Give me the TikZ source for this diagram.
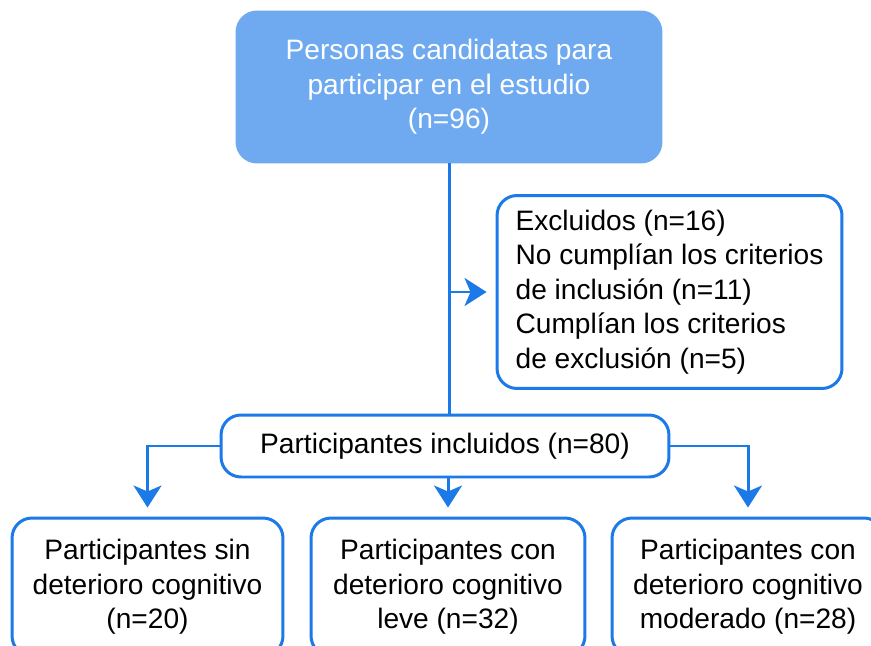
\documentclass[tikz,border=0pt]{standalone}
\usepackage{fontspec}
\setmainfont{Liberation Sans}
\usetikzlibrary{arrows.meta}

\definecolor{flowblue}{RGB}{27,121,232}
\definecolor{headfill}{RGB}{111,170,240}

\tikzset{
	boxbase/.style={draw=flowblue, line width=1.7pt, rounded corners=0.4cm, align=center, font=\fontsize{16pt}{19.6pt}\selectfont, inner sep=0pt},
	headbox/.style={boxbase, fill=headfill, draw=headfill, text=white},
	whitebox/.style={boxbase, fill=white, text=black},
	flowline/.style={draw=flowblue, line width=1.7pt},
	flowarrow/.style={flowline, -{Stealth[length=0.44cm, width=0.56cm, inset=0.12cm]}, shorten >=0.18cm}
}

\begin{document}
\begin{tikzpicture}[x=0.02cm, y=-0.02cm]
	\clip (0,0) rectangle (871,645);
	\fill[white] (0,0) rectangle (871,645);

	\node[headbox, minimum width=8.48cm, minimum height=3cm] (cand) at (449,87) {Personas candidatas para\\participar en el estudio\\(n=96)};
	\node[whitebox, align=left, minimum width=6.9cm, minimum height=3.86cm] (excl) at (669.5,292) {Excluidos (n=16)\\No cumplían los criterios\\de inclusión (n=11)\\Cumplían los criterios\\de exclusión (n=5)};
	\node[whitebox, minimum width=8.96cm, minimum height=1.24cm] (incl) at (445,446) {Participantes incluidos (n=80)};

	\node[whitebox, minimum width=5.42cm, minimum height=2.76cm] (g_sin) at (147.5,587) {Participantes sin\\deterioro cognitivo\\(n=20)};
	\node[whitebox, minimum width=5.48cm, minimum height=2.76cm] (g_leve) at (448,587) {Participantes con\\deterioro cognitivo\\leve (n=32)};
	\node[whitebox, minimum width=5.44cm, minimum height=2.76cm] (g_mod) at (748,587) {Participantes con\\deterioro cognitivo\\moderado (n=28)};

	\draw[flowline] (cand.south) -- (cand.south |- incl.north);
	\draw[flowarrow] (cand.south |- excl.west) -- (excl.west);

	\draw[flowarrow] (incl.west) -| (g_sin.north);
	\draw[flowarrow] (g_leve.north |- incl.south) -- (g_leve.north);
	\draw[flowarrow] (incl.east) -| (g_mod.north);
\end{tikzpicture}
\end{document}
